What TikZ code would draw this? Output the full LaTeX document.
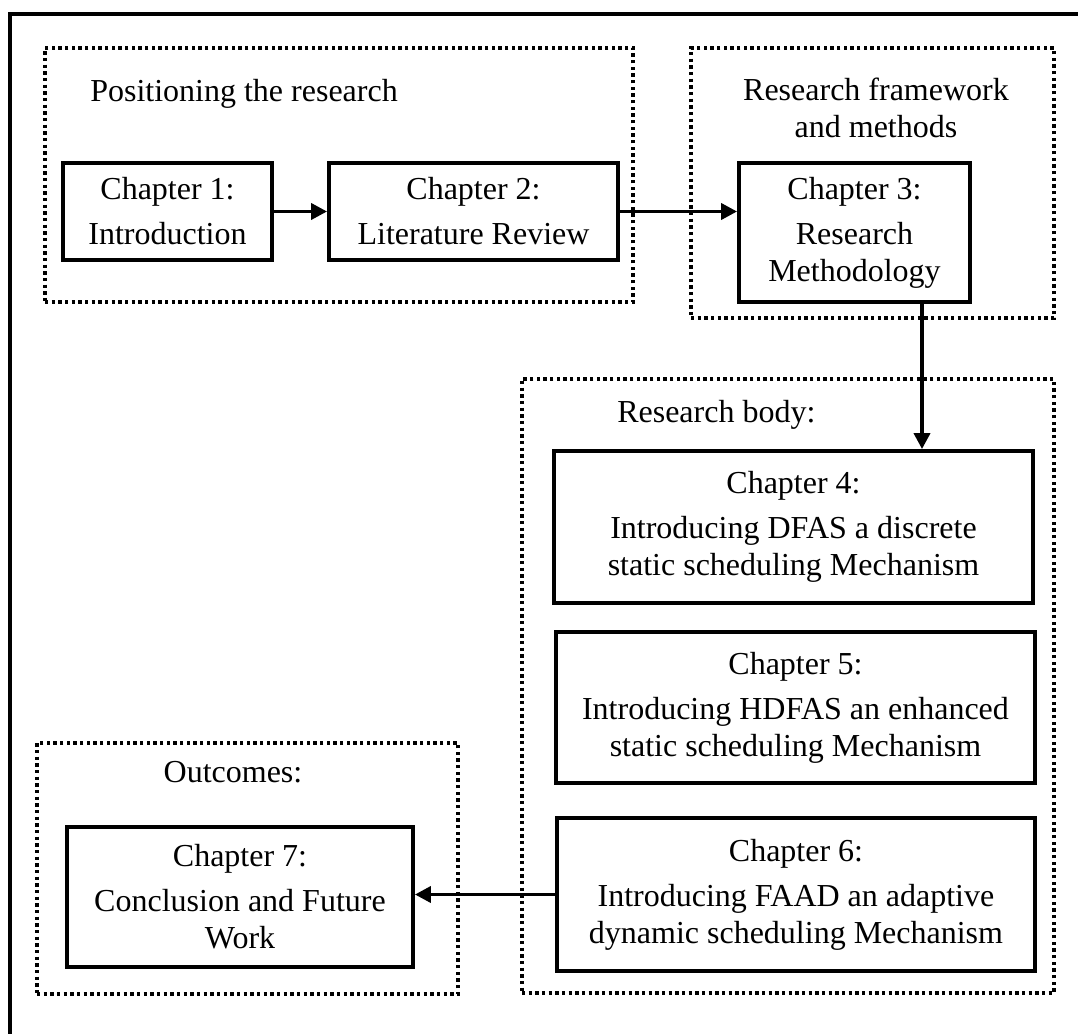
\documentclass[tikz,border=0pt]{standalone}
\usepackage{fontspec}
\setmainfont{Liberation Serif}
\usetikzlibrary{arrows.meta}
\tikzset{
  chbox/.style={draw, line width=2.9pt, align=center, inner sep=2pt,
    font=\fontsize{24}{27.75}\selectfont},
  dotbox/.style={draw, line width=2.9pt, dash pattern=on 2.5pt off 2.5pt},
  titletext/.style={align=center, inner sep=0pt, font=\fontsize{24}{27.75}\selectfont},
  arr/.style={line width=2.8pt, -{Triangle[length=12pt,width=12pt]}},
  frameline/.style={line width=3pt}
}
\begin{document}
\begin{tikzpicture}[x=0.75pt, y=-0.75pt]
\useasboundingbox (0,0) rectangle (1078,1034);
% outer frame (only top and left edges visible)
\coordinate (ftr) at (1090,14);
\coordinate (ftl) at (10,14);
\coordinate (fbl) at (10,1046);
\draw[frameline] (ftr) -- (ftl) -- (fbl);

% dotted groups
\node[dotbox, minimum width=441pt, minimum height=190.5pt] (gpos) at (339,175) {};
\node[dotbox, minimum width=272.25pt, minimum height=202.5pt] (gframe) at (872.5,183) {};
\node[dotbox, minimum width=399pt, minimum height=460.5pt] (gbody) at (788,686) {};
\node[dotbox, minimum width=315.75pt, minimum height=188.25pt] (gout) at (247.5,868.5) {};

% group titles
\node[titletext, anchor=base west] (tpos) at (90,102) {Positioning the research};
\node[titletext, anchor=center] (tframe) at (876,107.5) {Research framework\\and methods};
\node[titletext, anchor=base west] (tbody) at (617,422) {Research body:};
\node[titletext, anchor=base] (tout) at (233,782) {Outcomes:};

% chapter boxes
\node[chbox, minimum width=156.75pt, minimum height=72.75pt] (ch1) at (167.5,211.5)
  {Chapter 1:\\[6pt]Introduction};
\node[chbox, minimum width=216.75pt, minimum height=72.75pt] (ch2) at (473.5,211.5)
  {Chapter 2:\\[6pt]Literature Review};
\node[chbox, minimum width=173.25pt, minimum height=104.25pt] (ch3) at (854.5,232.5)
  {Chapter 3:\\[6pt]Research\\Methodology};
\node[chbox, minimum width=359.25pt, minimum height=114pt] (ch4) at (793.5,527)
  {Chapter 4:\\[6pt]Introducing DFAS a discrete\\static scheduling Mechanism};
\node[chbox, minimum width=359.25pt, minimum height=113.25pt] (ch5) at (795.5,707.5)
  {Chapter 5:\\[6pt]Introducing HDFAS an enhanced\\static scheduling Mechanism};
\node[chbox, minimum width=358.5pt, minimum height=114.75pt] (ch6) at (796,894.5)
  {Chapter 6:\\[6pt]Introducing FAAD an adaptive\\dynamic scheduling Mechanism};
\node[chbox, minimum width=259.5pt, minimum height=105pt] (ch7) at (240,897)
  {Chapter 7:\\[6pt]Conclusion and Future\\Work};

% connectors
\coordinate (c34) at (922,0);
\draw[arr] (ch1.east) -- (ch2.west);
\draw[arr] (ch2.east) -- (ch2.east -| ch3.west);
\draw[arr] (ch3.south -| c34) -- (ch4.north -| c34);
\draw[arr] (ch6.west) -- (ch6.west -| ch7.east);
\end{tikzpicture}
\end{document}
